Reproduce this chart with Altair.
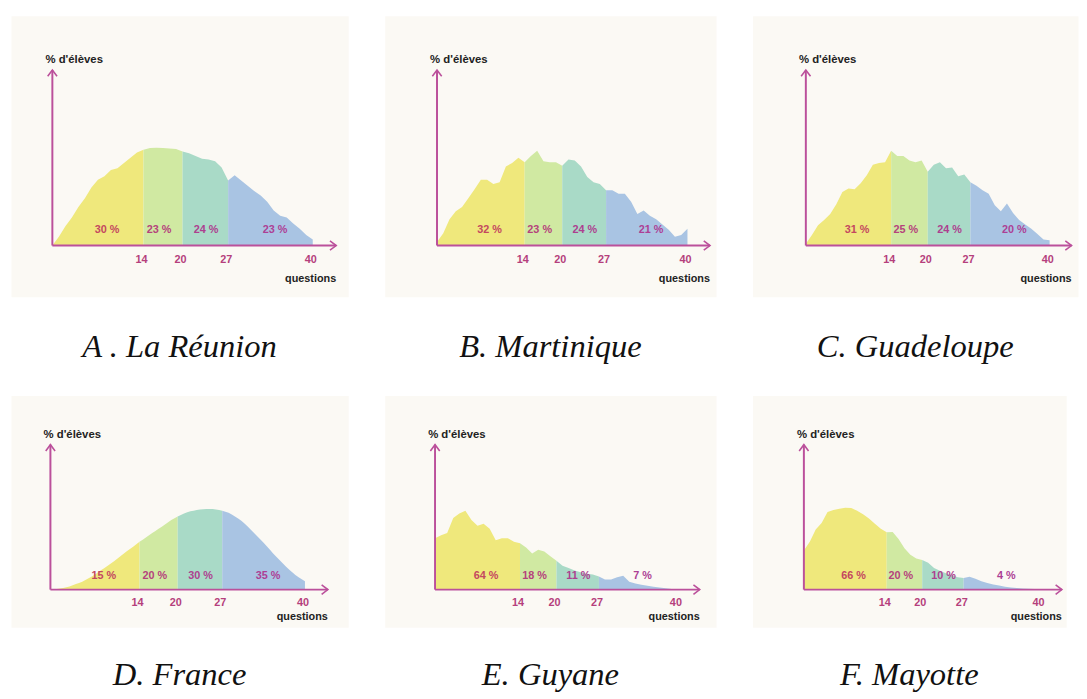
import altair as alt
import pandas as pd

# ---------------- data ----------------
questions = list(range(41))
cuts = [0, 14, 20, 27, 40]
tick_values = [14, 20, 27, 40]
label_x = [8.4, 16.4, 23.6, 34.2]
segment_colors = ["#efe87c", "#d0e9a2", "#a9dac7", "#a9c4e3"]
label_colors = ["#c4475f", "#b5427c", "#ad3f8f", "#ad3f95"]
axis_color = "#bb509b"
tick_color = "#b53f7c"

titles = ["A . La Réunion", "B. Martinique", "C. Guadeloupe",
          "D. France", "E. Guyane", "F. Mayotte"]

pct_reunion = ["30 %", "23 %", "24 %", "23 %"]
pct_martinique = ["32 %", "23 %", "24 %", "21 %"]
pct_guadeloupe = ["31 %", "25 %", "24 %", "20 %"]
pct_france = ["15 %", "20 %", "30 %", "35 %"]
pct_guyane = ["64 %", "18 %", "11 %", "7 %"]
pct_mayotte = ["66 %", "20 %", "10 %", "4 %"]

# relative height of the distribution (y-axis arrow top = 10)
h_reunion = [0.0, 0.5, 1.1, 1.6, 2.2, 2.7, 3.3, 3.75, 3.95, 4.3, 4.4, 4.7, 5.0, 5.3,
             5.45, 5.55, 5.57, 5.55, 5.53, 5.5, 5.35, 5.25, 5.1, 4.95, 4.9, 4.8, 4.45,
             3.7, 4.0, 3.7, 3.4, 3.1, 2.85, 2.5, 2.0, 1.7, 1.6, 1.25, 0.95, 0.6, 0.35]
h_martinique = [0.2, 0.7, 1.5, 1.95, 2.2, 2.7, 3.2, 3.75, 3.75, 3.5, 3.6, 4.5, 4.7, 5.0,
                4.75, 5.1, 5.4, 4.8, 4.75, 4.75, 4.55, 4.9, 4.85, 4.5, 3.9, 3.6, 3.5,
                3.15, 3.15, 2.95, 2.95, 2.5, 1.8, 2.0, 1.7, 1.5, 1.2, 0.9, 0.5, 0.6, 0.95]
h_guadeloupe = [0.1, 0.6, 1.15, 1.45, 1.8, 2.35, 3.05, 3.25, 3.2, 3.55, 4.0, 4.6, 4.7, 4.75,
                5.4, 5.1, 5.1, 4.85, 4.75, 4.85, 4.2, 4.6, 4.75, 4.4, 4.45, 3.95, 4.05,
                3.6, 3.4, 3.15, 2.95, 2.3, 1.95, 2.4, 1.85, 1.45, 1.2, 0.95, 0.65, 0.35, 0.3]
h_france = [0.0, 0.05, 0.12, 0.22, 0.38, 0.55, 0.78, 1.05, 1.35, 1.65, 1.95, 2.3, 2.65, 2.95,
            3.3, 3.6, 3.9, 4.2, 4.5, 4.8, 5.05, 5.25, 5.4, 5.5, 5.55, 5.56, 5.53,
            5.45, 5.3, 5.05, 4.75, 4.35, 3.9, 3.45, 3.0, 2.5, 2.05, 1.6, 1.2, 0.85, 0.57]
h_guyane = [3.55, 3.75, 3.9, 4.95, 5.25, 5.45, 4.8, 4.4, 4.55, 4.2, 3.4, 3.55, 3.55, 3.3,
            3.2, 2.9, 2.5, 2.75, 2.63, 2.3, 2.0, 1.65, 1.5, 1.32, 1.2, 1.1, 1.04,
            0.9, 0.7, 0.7, 0.85, 0.95, 0.55, 0.42, 0.34, 0.27, 0.2, 0.14, 0.09, 0.05, 0.02]
h_mayotte = [2.7, 3.3, 4.15, 4.6, 5.35, 5.5, 5.58, 5.65, 5.63, 5.45, 5.2, 4.9, 4.55, 4.2,
             3.95, 3.98, 3.5, 2.85, 2.4, 2.15, 2.05, 1.85, 1.5, 1.3, 1.13, 1.0, 0.85,
             0.8, 0.88, 0.75, 0.57, 0.45, 0.36, 0.28, 0.2, 0.15, 0.11, 0.08, 0.06, 0.04, 0.03]

BG = "#fbf9f4"


def panel(title, heights, pcts, width, height, xdom, ydom, interp, tick_dy, q_dy, pct_dy,
          title_offset):
    rows = []
    for s in range(4):
        for q in range(cuts[s], cuts[s + 1] + 1):
            rows.append({"q": questions[q], "h": heights[q], "seg": s,
                         "c": segment_colors[s]})
    df = pd.DataFrame(rows)
    xs = alt.Scale(domain=xdom, nice=False, zero=False)
    ys = alt.Scale(domain=ydom, nice=False, zero=False)

    area = alt.Chart(df).mark_area(interpolate=interp, opacity=1).encode(
        x=alt.X("q:Q", scale=xs, axis=None),
        y=alt.Y("h:Q", scale=ys, axis=None, stack=None),
        color=alt.Color("c:N", scale=None),
        detail="seg:N",
    )

    axes_df = pd.DataFrame({"x": [0, 0], "x2": [43.6, 0], "y": [0, 0], "y2": [0, 10]})
    axes = alt.Chart(axes_df).mark_rule(color=axis_color, strokeWidth=2).encode(
        x="x:Q", x2="x2:Q", y="y:Q", y2="y2:Q")

    arr_r = alt.Chart(pd.DataFrame({"x": [43.6], "y": [0]})).mark_point(
        shape="M-1,-0.75L0,0L-1,0.75", filled=False, stroke=axis_color,
        strokeWidth=1.6, size=160, opacity=1).encode(x="x:Q", y="y:Q")
    arr_u = alt.Chart(pd.DataFrame({"x": [0], "y": [10]})).mark_point(
        shape="M-0.75,1L0,0L0.75,1", filled=False, stroke=axis_color,
        strokeWidth=1.6, size=160, opacity=1).encode(x="x:Q", y="y:Q")

    pct_df = pd.DataFrame({"x": label_x, "y": [0] * 4, "t": pcts, "c": label_colors})
    pct = alt.Chart(pct_df).mark_text(
        font="Liberation Sans", fontWeight="bold", fontSize=11, dy=pct_dy,
        baseline="middle").encode(
        x="x:Q", y="y:Q", text="t:N", color=alt.Color("c:N", scale=None))

    tick_df = pd.DataFrame({"x": tick_values, "y": [0] * 4,
                            "t": [str(v) for v in tick_values]})
    ticks = alt.Chart(tick_df).mark_text(
        font="Liberation Sans", fontWeight="bold", fontSize=11, dy=tick_dy, dx=-2,
        baseline="middle", color=tick_color).encode(x="x:Q", y="y:Q", text="t:N")

    qlab = alt.Chart(pd.DataFrame({"x": [43.6], "y": [0], "t": ["questions"]})).mark_text(
        font="Liberation Sans", fontWeight="bold", fontSize=11, dy=q_dy, align="right",
        baseline="middle", color="#222222").encode(x="x:Q", y="y:Q", text="t:N")
    ylab = alt.Chart(pd.DataFrame({"x": [0], "y": [10], "t": ["% d'élèves"]})).mark_text(
        font="Liberation Sans", fontWeight="bold", fontSize=11.5, dy=-10, dx=-7,
        align="left", baseline="middle", color="#222222").encode(
        x="x:Q", y="y:Q", text="t:N")

    return alt.layer(area, axes, arr_r, arr_u, pct, ticks, qlab, ylab).properties(
        width=width, height=height,
        title=alt.TitleParams(text=title, orient="bottom", font="Liberation Serif",
                              fontStyle="italic", fontWeight="normal", fontSize=33,
                              color="#111111", offset=title_offset, anchor="middle"),
    )


R1H, R2H = 285, 235
Y1 = [-2.92, 13.09]
Y2 = [-2.59, 13.4]

A = panel(titles[0], h_reunion, pct_reunion, 342, R1H, [-6.36, 45.45], Y1, "linear", 15, 34, -16, 35)
B = panel(titles[1], h_martinique, pct_martinique, 336, R1H, [-8.35, 44.57], Y1, "linear", 15, 34, -16, 35)
C = panel(titles[2], h_guadeloupe, pct_guadeloupe, 330, R1H, [-8.74, 44.66], Y1, "linear", 15, 34, -16, 35)
D = panel(titles[3], h_france, pct_france, 342, R2H, [-6.2, 46.8], Y2, "monotone", 14, 28, -14, 33)
E = panel(titles[4], h_guyane, pct_guyane, 336, R2H, [-8.29, 46.3], Y2, "linear", 14, 28, -14, 33)
F = panel(titles[5], h_mayotte, pct_mayotte, 318, R2H, [-8.67, 44.33], Y2, "linear", 14, 28, -14, 33)

chart = alt.vconcat(
    alt.hconcat(A, B, C, spacing=35),
    alt.hconcat(D, E, F, spacing=35),
    spacing=30,
).properties(
    padding={"left": 2, "top": 2, "right": 0, "bottom": 0},
    background="white",
).configure_view(fill=BG, stroke="transparent")

chart.save("out.html", embed_options={"renderer": "svg", "actions": False})
